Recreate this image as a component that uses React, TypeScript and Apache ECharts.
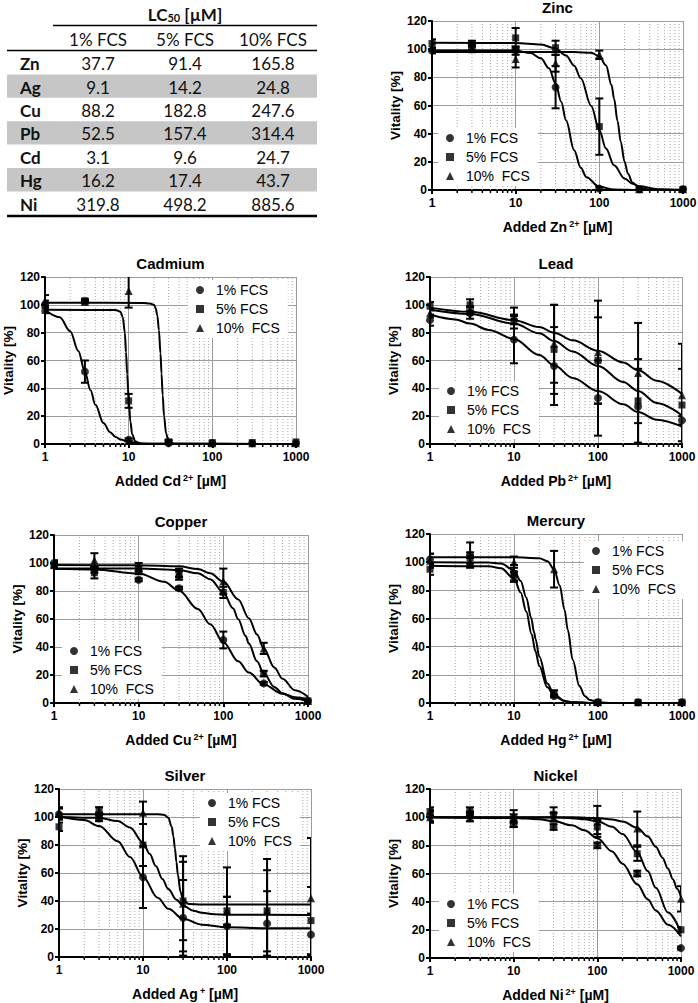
import React, { useEffect, useRef } from "react";
import * as echarts from "echarts";

const FONT = "Liberation Sans, Arial, sans-serif";
const TABLE_FONT = "Lato, Noto Sans, sans-serif";

// ---------- shared axis values ----------
const doses = [1, 3, 10, 30, 100, 300, 1000];
const serumLevels = ["1% FCS", "5% FCS", "10% FCS"];
const xMinorTicks = [2, 3, 4, 5, 6, 7, 8, 9, 20, 30, 40, 50, 60, 70, 80, 90, 200, 300, 400, 500, 600, 700, 800, 900];

// ---------- LC50 table ----------
const tableMetals = ["Zn", "Ag", "Cu", "Pb", "Cd", "Hg", "Ni"];
const tableHeaders = ["1% FCS", "5% FCS", "10% FCS"];
const lc50Fcs1 = ["37.7", "9.1", "88.2", "52.5", "3.1", "16.2", "319.8"];
const lc50Fcs5 = ["91.4", "14.2", "182.8", "157.4", "9.6", "17.4", "498.2"];
const lc50Fcs10 = ["165.8", "24.8", "247.6", "314.4", "24.7", "43.7", "885.6"];

// ---------- Zinc ----------
const zincMean1 = [99, 101, 99, 73, 1, 0.5, 0.5];
const zincErr1 = [2, 2, 3, 15, 1, 0, 0];
const zincMean5 = [104, 104, 108, 101, 45, 0.5, 0.5];
const zincErr5 = [3, 2, 7, 5, 20, 0, 0];
const zincMean10 = [101, 100, 93, 90, 96, 0.5, 0.5];
const zincErr10 = [3, 2, 6, 6, 3, 0, 0];
const zincFit1 = [[1, 99], [10, 99], [15, 97.2], [20, 93.5], [25, 86.4], [30, 75.7], [35, 62.7], [40, 49.5], [50, 28.3], [60, 15.8], [70, 9.1], [100, 2.3], [150, 0.4], [300, 0], [1000, 0]];
const zincFit5 = [[1, 104.5], [10, 104.4], [20, 103.3], [30, 100.5], [40, 95.5], [50, 88.3], [60, 79.3], [80, 59.7], [100, 42.4], [120, 29.5], [150, 17.6], [200, 8.2], [250, 4.4], [300, 2.6], [500, 0.6], [1000, 0.1]];
const zincFit10 = [[1, 98], [50, 98], [80, 97.4], [100, 95], [120, 88.5], [140, 74.5], [150, 64.8], [165, 49], [180, 34.5], [200, 20.2], [220, 11.5], [250, 5.1], [300, 1.5], [400, 0.2], [1000, 0]];

// ---------- Cadmium ----------
const cdMean1 = [100, 52, 3, 0.5, 0.5, 0.5, 0.5];
const cdErr1 = [3, 8, 1, 0, 0, 0, 0];
const cdMean5 = [96, 103, 31, 1.5, 1, 1, 1.5];
const cdErr5 = [2, 1, 5, 1, 0, 0, 0];
const cdMean10 = [103, 102, 110, 2, 0.5, 0.5, 0.5];
const cdErr10 = [4, 1, 12, 1, 0, 0, 0];
const cdFit1 = [[1, 96.5], [1.5, 91.1], [2, 81], [2.5, 66.9], [3, 51.8], [3.5, 38.6], [4, 28.2], [5, 15.1], [6, 8.5], [7, 5.1], [8, 3.2], [10, 1.5], [15, 0.4], [20, 0.1], [1000, 0]];
const cdFit5 = [[1, 96.5], [7, 96.3], [8, 95], [8.5, 91], [9, 80], [9.3, 66], [9.6, 50], [10, 32], [10.5, 16], [11, 7], [12, 1.8], [14, 0.2], [1000, 0]];
const cdFit10 = [[1, 101.5], [15, 101.4], [18, 101], [20, 100], [21, 97.8], [22, 92.4], [23, 81.8], [24, 65], [24.7, 50.7], [25.5, 35], [26.5, 20], [28, 7.6], [30, 2], [35, 0.2], [1000, 0]];

// ---------- Lead ----------
const pbMean1 = [89, 94, 75, 56, 33, 27, 17];
const pbErr1 = [4, 4, 17, 28, 27, 27, 3];
const pbMean5 = [99, 100, 88, 68, 60, 31, 28];
const pbErr5 = [3, 4, 5, 32, 31, 30, 26];
const pbMean10 = [94, 96, 92, 72, 66, 51, 35];
const pbErr10 = [3, 3, 6, 28, 37, 36, 37];
const pbFit1 = [[1, 93], [2, 89.5], [3, 86.5], [5, 82], [10, 75.5], [20, 64], [30, 56.5], [50, 47.5], [100, 38], [200, 28.5], [300, 23], [500, 17.5], [1000, 12.5]];
const pbFit5 = [[1, 96.5], [3, 93.5], [10, 86.5], [20, 79.5], [30, 74], [50, 66.5], [100, 56], [200, 44.5], [300, 38], [500, 29.5], [1000, 20.5]];
const pbFit10 = [[1, 98], [3, 95], [10, 89], [20, 84], [30, 80], [50, 74.5], [100, 67], [200, 58.5], [300, 53], [500, 45.5], [1000, 36]];

// ---------- Copper ----------
const cuMean1 = [100, 95, 88, 82, 45, 14, 1.5];
const cuErr1 = [2, 2, 1, 1, 6, 1, 1];
const cuMean5 = [98, 93, 95, 91, 79, 21, 1.5];
const cuErr5 = [2, 4, 3, 3, 4, 2, 1];
const cuMean10 = [99, 102, 97, 93, 87, 39, 1.5];
const cuErr10 = [2, 5, 3, 3, 9, 4, 1];
const cuFit1 = [[1, 95.9], [3, 95.4], [10, 92.5], [20, 86.6], [30, 80.1], [50, 67.2], [70, 56.2], [100, 43.4], [150, 29.8], [200, 21.7], [300, 13.2], [500, 6.6], [700, 4.1], [1000, 2.4]];
const cuFit5 = [[1, 96], [10, 96], [30, 95], [50, 92.6], [70, 88.4], [100, 79], [130, 67.7], [150, 59.9], [183, 48], [200, 42.5], [250, 29.8], [300, 21.2], [400, 11.5], [500, 6.9], [700, 3], [1000, 1.2]];
const cuFit10 = [[1, 98.5], [10, 98.4], [30, 97.6], [50, 95.7], [70, 92.7], [100, 86.7], [150, 74], [200, 60.6], [250, 49], [300, 39], [400, 25.4], [500, 17.3], [700, 9.1], [1000, 4.4]];

// ---------- Mercury ----------
const hgMean1 = [102, 105, 90, 5, 0.5, 0.5, 0.5];
const hgErr1 = [4, 9, 3, 1, 0, 0, 0];
const hgMean5 = [95, 103, 92, 7, 0.5, 0.5, 0.5];
const hgErr5 = [4, 4, 6, 2, 0, 0, 0];
const hgMean10 = [101, 100, 100, 95, 0.5, 0.5, 0.5];
const hgErr10 = [5, 3, 4, 13, 0, 0, 0];
const hgFit1 = [[1, 97.5], [5, 97.1], [7, 95.7], [10, 88.5], [12, 78.5], [14, 64.9], [16.2, 48.75], [18, 36.8], [20, 26.3], [25, 11.1], [30, 5], [40, 1.3], [50, 0.5], [100, 0], [1000, 0]];
const hgFit5 = [[1, 100], [5, 99.8], [7, 99], [10, 94.3], [12, 86.7], [14, 75], [16, 60.4], [17.4, 50], [18, 45.7], [20, 33.1], [25, 13.8], [30, 6], [40, 1.5], [50, 0.5], [100, 0], [1000, 0]];
const hgFit10 = [[1, 103.5], [10, 103.5], [20, 102.8], [25, 100.7], [30, 95], [35, 83.4], [40, 66.1], [43.7, 51.75], [50, 30.7], [60, 12], [70, 4.8], [80, 2.1], [100, 0.5], [150, 0], [1000, 0]];

// ---------- Silver ----------
const agMean1 = [102, 99, 57, 28, 22, 24, 16];
const agErr1 = [4, 2, 22, 27, 21, 23, 15];
const agMean5 = [93, 105, 80, 40, 33, 33, 26];
const agErr5 = [3, 2, 15, 28, 31, 29, 24];
const agMean10 = [103, 101, 103, 38, 33, 33, 42];
const agErr10 = [4, 2, 8, 34, 10, 37, 43];
const agFit1 = [[1, 100.5], [2, 97.8], [3, 93.5], [5, 82.7], [7, 71.4], [10, 57.2], [15, 42.3], [20, 34.4], [30, 27.3], [50, 23.1], [100, 21.2], [300, 20.6], [1000, 20.5]];
const agFit5 = [[1, 100], [3, 99.4], [5, 97.1], [7, 92.5], [10, 81.9], [12, 73.7], [14.2, 65], [17, 55.8], [20, 48.5], [25, 40.9], [30, 36.7], [40, 33], [50, 31.6], [70, 30.6], [100, 30.2], [1000, 30]];
const agFit10 = [[1, 102], [15, 101.95], [18, 101.5], [20, 99.5], [22, 92.8], [23, 86.3], [24, 77.5], [25, 67.8], [26, 58.8], [28, 46.5], [30, 41], [35, 37.9], [50, 37.5], [1000, 37.5]];

// ---------- Nickel ----------
const niMean1 = [101, 102, 95, 93, 80, 60, 7];
const niErr1 = [4, 2, 2, 2, 2, 2, 1];
const niMean5 = [104, 104, 99, 102, 93, 74, 20];
const niErr5 = [3, 3, 6, 5, 5, 5, 2];
const niMean10 = [100, 100, 99, 100, 97, 92, 42];
const niErr10 = [4, 3, 3, 3, 11, 12, 9];
const niFit1 = [[1, 100], [10, 99.45], [20, 98.5], [30, 97.2], [50, 94.2], [70, 90.7], [100, 85.1], [150, 75.7], [200, 66.9], [300, 52.4], [400, 41.7], [500, 33.8], [700, 23.6], [1000, 15.3]];
const niFit5 = [[1, 100], [30, 99.8], [50, 99.3], [70, 98.6], [100, 97.1], [150, 93.2], [200, 88], [300, 75.1], [400, 61.7], [500, 49.8], [700, 32.3], [1000, 18]];
const niFit10 = [[1, 100], [50, 99.9], [100, 99.4], [150, 98.4], [200, 96.9], [300, 92.5], [400, 86.4], [500, 79], [600, 71.2], [700, 63.3], [800, 55.9], [900, 49.1], [1000, 43]];

// ---------- layout ----------
type Panel = {
  title: string; ion: string; charge: string;
  left: number; top: number; width: number; height: number;
  legendX: number; legendY: number;
  means: number[][]; errs: number[][]; fits: number[][][];
};

const panels: Panel[] = [
  { title: "Zinc", ion: "Zn", charge: "2+", left: 432, top: 21, width: 251, height: 169, legendX: 450, legendY: 138,
    means: [zincMean1, zincMean5, zincMean10], errs: [zincErr1, zincErr5, zincErr10], fits: [zincFit1, zincFit5, zincFit10] },
  { title: "Cadmium", ion: "Cd", charge: "2+", left: 45, top: 277, width: 251, height: 167, legendX: 200, legendY: 290,
    means: [cdMean1, cdMean5, cdMean10], errs: [cdErr1, cdErr5, cdErr10], fits: [cdFit1, cdFit5, cdFit10] },
  { title: "Lead", ion: "Pb", charge: "2+", left: 430, top: 277, width: 252, height: 167, legendX: 451, legendY: 391,
    means: [pbMean1, pbMean5, pbMean10], errs: [pbErr1, pbErr5, pbErr10], fits: [pbFit1, pbFit5, pbFit10] },
  { title: "Copper", ion: "Cu", charge: "2+", left: 54, top: 535, width: 254, height: 168, legendX: 74, legendY: 651,
    means: [cuMean1, cuMean5, cuMean10], errs: [cuErr1, cuErr5, cuErr10], fits: [cuFit1, cuFit5, cuFit10] },
  { title: "Mercury", ion: "Hg", charge: "2+", left: 430, top: 534, width: 252, height: 169, legendX: 596, legendY: 551,
    means: [hgMean1, hgMean5, hgMean10], errs: [hgErr1, hgErr5, hgErr10], fits: [hgFit1, hgFit5, hgFit10] },
  { title: "Silver", ion: "Ag", charge: "+", left: 59, top: 789, width: 252, height: 168, legendX: 212, legendY: 803,
    means: [agMean1, agMean5, agMean10], errs: [agErr1, agErr5, agErr10], fits: [agFit1, agFit5, agFit10] },
  { title: "Nickel", ion: "Ni", charge: "2+", left: 430, top: 789, width: 251, height: 169, legendX: 451, legendY: 904,
    means: [niMean1, niMean5, niMean10], errs: [niErr1, niErr5, niErr10], fits: [niFit1, niFit5, niFit10] },
];

const symbols = ["circle", "rect", "triangle"];
const symbolSizes = [8, 7, 8];
const GRID_COLOR = "#9c9c9c";

function buildTable(): any[] {
  const els: any[] = [];
  const rowTop = 51;
  const rowH = 23.4;
  const colX = [98, 185, 273];
  const cols = [lc50Fcs1, lc50Fcs5, lc50Fcs10];
  tableMetals.forEach((_, r) => {
    if (r % 2 === 1) {
      els.push({ type: "rect", silent: true, z: 0, shape: { x: 7, y: rowTop + r * rowH, width: 310, height: rowH }, style: { fill: "#c6c6c6" } });
    }
  });
  const txt = (text: string, x: number, y: number, align: string, bold: boolean) => ({
    type: "text", silent: true, z: 2, x, y,
    style: { text, fill: "#111", fontFamily: TABLE_FONT, fontSize: 17, fontWeight: bold ? "bold" : "normal",
      align, textAlign: align, verticalAlign: "middle", textVerticalAlign: "middle" },
  });
  els.push({
    type: "text", silent: true, z: 2, x: 185, y: 14,
    style: {
      text: "{b|LC}{s|50}{b| [µM]}", fill: "#111", align: "center", textAlign: "center", verticalAlign: "middle", textVerticalAlign: "middle",
      rich: {
        b: { fontFamily: TABLE_FONT, fontSize: 17, fontWeight: "bold", fill: "#111" },
        s: { fontFamily: TABLE_FONT, fontSize: 11, fontWeight: "bold", fill: "#111", padding: [7, 0, 0, 0] },
      },
    },
  });
  els.push({ type: "line", silent: true, z: 2, shape: { x1: 53, y1: 25.5, x2: 317, y2: 25.5 }, style: { stroke: "#000", lineWidth: 1.3 } });
  tableHeaders.forEach((h, c) => els.push(txt(h, colX[c], 39, "center", false)));
  els.push({ type: "line", silent: true, z: 2, shape: { x1: 7, y1: 50.5, x2: 317, y2: 50.5 }, style: { stroke: "#000", lineWidth: 1.6 } });
  tableMetals.forEach((m, r) => {
    const y = rowTop + r * rowH + rowH / 2 + 1;
    els.push(txt(m, 20, y, "left", true));
    cols.forEach((col, c) => els.push(txt(col[r], colX[c], y, "center", false)));
  });
  els.push({ type: "line", silent: true, z: 2, shape: { x1: 7, y1: 216, x2: 317, y2: 216 }, style: { stroke: "#000", lineWidth: 2.5 } });
  return els;
}

function buildOption(): any {
  const grid: any[] = [];
  const xAxis: any[] = [];
  const yAxis: any[] = [];
  const series: any[] = [];
  const legend: any[] = [];
  const title: any[] = [];

  const labelStyle = { fontFamily: FONT, fontWeight: "bold", fontSize: 12, color: "#000" };
  const nameStyle = { fontFamily: FONT, fontWeight: "bold", fontSize: 14, color: "#000" };

  panels.forEach((p, i) => {
    grid.push({ left: p.left, top: p.top, width: p.width, height: p.height, containLabel: false, outerBoundsMode: "none" });
    title.push({
      text: p.title, left: p.left + p.width / 2, top: Math.max(0, p.top - 21), textAlign: "center", padding: 0,
      textStyle: { fontFamily: FONT, fontWeight: "bold", fontSize: 15, color: "#000" },
    });
    xAxis.push({
      type: "log", logBase: 10, min: 1, max: 1000, gridIndex: i,
      axisLine: { show: true, onZero: false, lineStyle: { color: "#000", width: 2 } },
      axisTick: { show: true, length: 4, lineStyle: { color: "#000", width: 2 } },
      axisLabel: { ...labelStyle, margin: 7, showMinLabel: true, showMaxLabel: true, formatter: (v: number) => String(Math.round(v)) },
      splitLine: { show: true, lineStyle: { color: GRID_COLOR, width: 1 } },
      name: `{t|Added ${p.ion}}{sup|${p.charge}}{t| [µM]}`,
      nameLocation: "middle", nameGap: 29,
      nameTextStyle: {
        ...nameStyle,
        rich: {
          t: { ...nameStyle, lineHeight: 16, verticalAlign: "middle" },
          sup: { ...nameStyle, fontSize: 9, lineHeight: 10, verticalAlign: "top", padding: [0, 0, 0, 2] },
        },
      },
    });
    yAxis.push({
      type: "value", min: 0, max: 120, interval: 20, gridIndex: i,
      axisLine: { show: true, lineStyle: { color: "#000", width: 2 } },
      axisTick: { show: true, length: 4, lineStyle: { color: "#000", width: 2 } },
      axisLabel: { ...labelStyle, margin: 5 },
      splitLine: { show: true, lineStyle: { color: GRID_COLOR, width: 1 } },
      name: "Vitality [%]", nameLocation: "middle", nameGap: 30, nameRotate: 90, nameTextStyle: { ...nameStyle, fontSize: 13.5 },
    });

    // minor dotted grid lines
    series.push({
      type: "custom", name: `minor-grid-${i}`, xAxisIndex: i, yAxisIndex: i, silent: true, z: 1, clip: false,
      data: xMinorTicks.map((v) => [v, 0]),
      renderItem: (_params: any, api: any) => {
        const v = api.value(0);
        const a = api.coord([v, 0]);
        const b = api.coord([v, 120]);
        return { type: "line", shape: { x1: a[0], y1: a[1], x2: b[0], y2: b[1] }, style: { stroke: "#a8a8a8", lineWidth: 1, lineDash: [1, 2] } };
      },
    });
    // minor ticks on x axis
    series.push({
      type: "custom", name: `minor-tick-${i}`, xAxisIndex: i, yAxisIndex: i, silent: true, z: 6, clip: false,
      data: xMinorTicks.map((v) => [v, 0]),
      renderItem: (_params: any, api: any) => {
        const a = api.coord([api.value(0), 0]);
        return { type: "line", shape: { x1: a[0], y1: a[1], x2: a[0], y2: a[1] + 3 }, style: { stroke: "#000", lineWidth: 1.5 } };
      },
    });
    // fitted curves
    p.fits.forEach((fit, k) => {
      series.push({
        type: "line", name: `fit-${i}-${k}`, xAxisIndex: i, yAxisIndex: i, data: fit, smooth: 0.35, smoothMonotone: "x",
        symbol: "none", showSymbol: false, silent: true, z: 3, clip: true,
        lineStyle: { color: "#000", width: 2 },
      });
    });
    // error bars
    p.means.forEach((mean, k) => {
      series.push({
        type: "custom", name: `err-${i}-${k}`, xAxisIndex: i, yAxisIndex: i, silent: true, z: 4, clip: true,
        data: doses.map((d, j) => [d, mean[j], p.errs[k][j]]),
        renderItem: (_params: any, api: any) => {
          const x = api.value(0), y = api.value(1), e = api.value(2);
          if (!e) return { type: "group", children: [] };
          const hi = api.coord([x, y + e]);
          const lo = api.coord([x, y - e]);
          const w = 4;
          const st = { stroke: "#000", lineWidth: 2 };
          return {
            type: "group",
            children: [
              { type: "line", shape: { x1: hi[0], y1: hi[1], x2: lo[0], y2: lo[1] }, style: st },
              { type: "line", shape: { x1: hi[0] - w, y1: hi[1], x2: hi[0] + w, y2: hi[1] }, style: st },
              { type: "line", shape: { x1: lo[0] - w, y1: lo[1], x2: lo[0] + w, y2: lo[1] }, style: st },
            ],
          };
        },
      });
    });
    // data points
    p.means.forEach((mean, k) => {
      series.push({
        type: "scatter", name: serumLevels[k], xAxisIndex: i, yAxisIndex: i, z: 5, clip: false,
        symbol: symbols[k], symbolSize: symbolSizes[k], itemStyle: { color: "#000" },
        data: doses.map((d, j) => [d, mean[j]]),
      });
    });
    legend.push({
      data: serumLevels.map((n, k) => ({ name: n, icon: symbols[k] })),
      orient: "vertical", left: p.legendX - 4 - 8, top: p.legendY - 7 - 3,
      itemWidth: 8, itemHeight: 8, itemGap: 5, padding: [3, 8, 3, 8], backgroundColor: "#fff",
      selectedMode: false, z: 4,
      formatter: (n: string) => (n === "10% FCS" ? "10%  FCS" : n),
      textStyle: { fontFamily: FONT, fontSize: 14, color: "#000", lineHeight: 14, padding: [0, 0, 0, 7] },
    });
  });

  return {
    animation: false,
    backgroundColor: "#fff",
    title, grid, xAxis, yAxis, series, legend,
    graphic: { elements: buildTable() },
  };
}

export default function App() {
  const ref = useRef<HTMLDivElement>(null);
  useEffect(() => {
    const chart = echarts.init(ref.current!, null, { renderer: "svg" });
    chart.setOption(buildOption());
    return () => chart.dispose();
  }, []);
  return <div ref={ref} style={{ position: "absolute", left: 0, top: 0, width: 698, height: 1003, background: "#fff" }} />;
}
